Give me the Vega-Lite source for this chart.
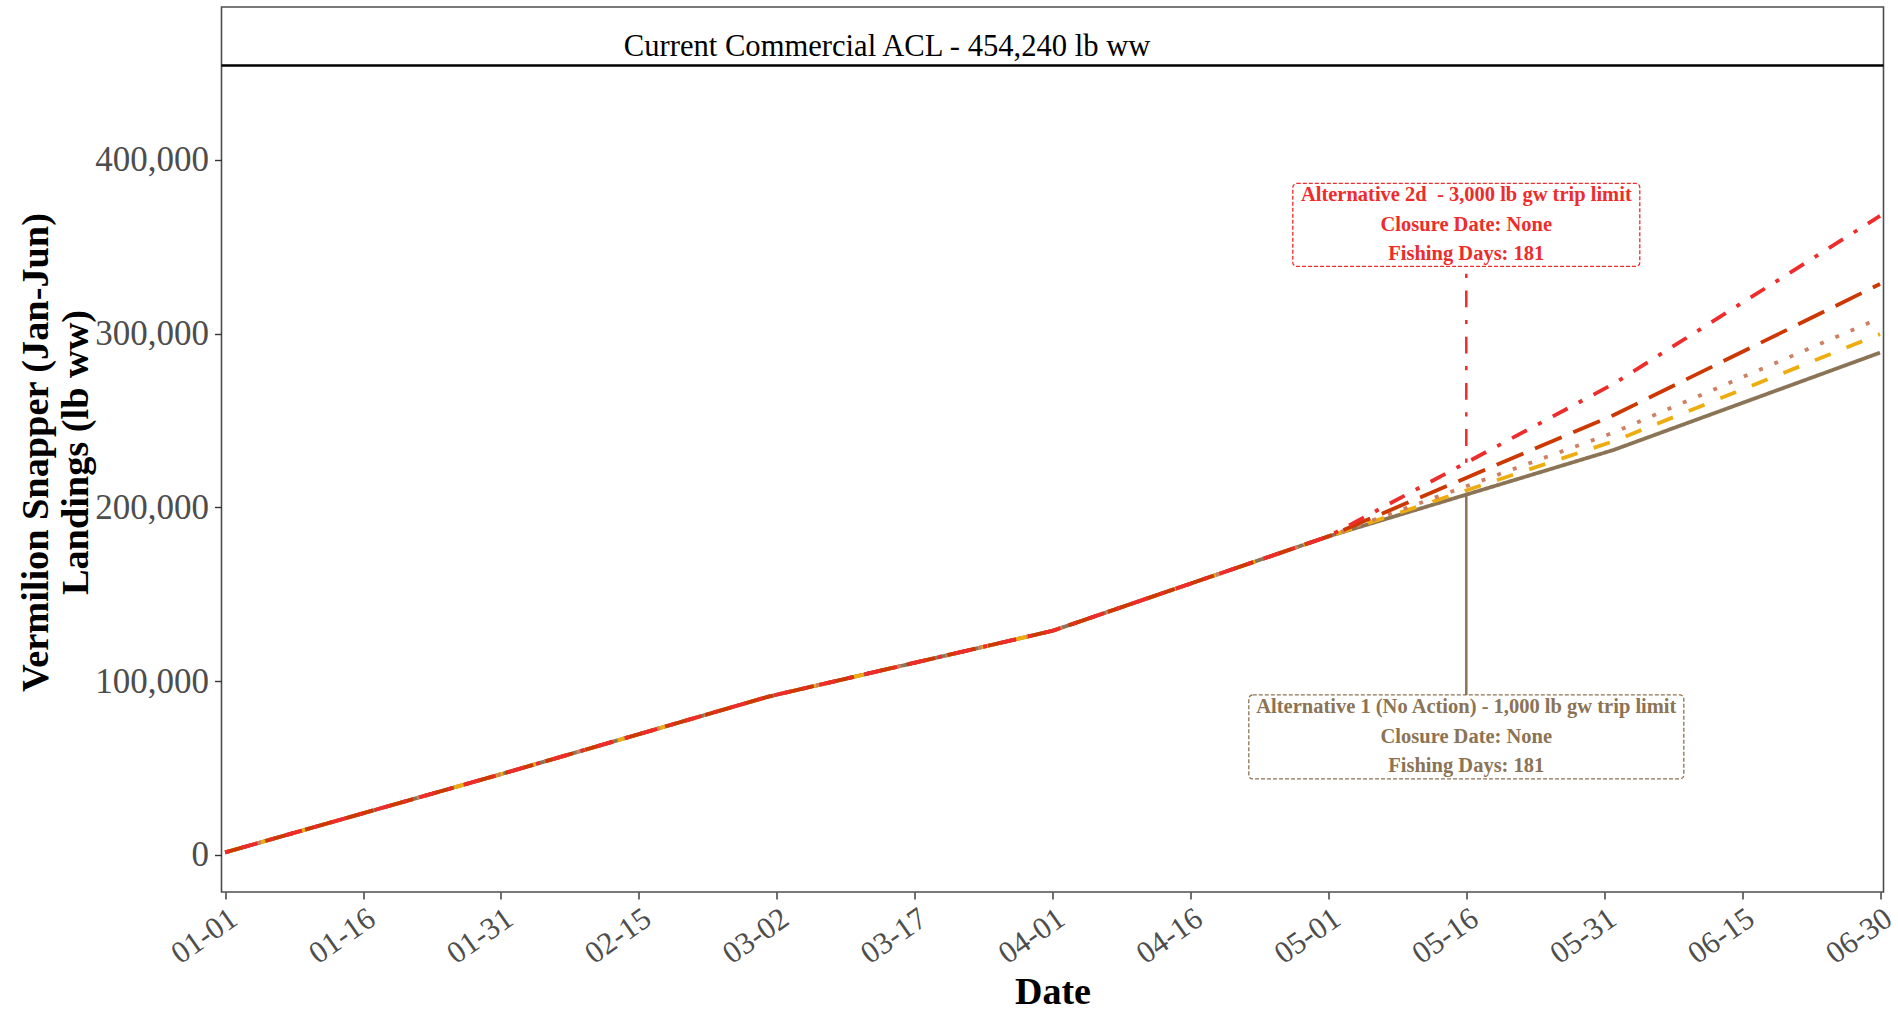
{
  "$schema": "https://vega.github.io/schema/vega-lite/v6.json",
  "width": 1662,
  "height": 885,
  "autosize": {"type": "none"},
  "padding": {"left": 221.5, "top": 7, "right": 14.5, "bottom": 118},
  "background": "white",
  "config": {
    "font": "Liberation Serif",
    "view": {"stroke": "#4D4D4D", "strokeWidth": 1.6}
  },
  "datasets": {
    "landings": [
      {"alt": "Alternative 1", "date": "2023-01-01", "value": 1500},
      {"alt": "Alternative 1", "date": "2023-01-31", "value": 46500},
      {"alt": "Alternative 1", "date": "2023-03-01", "value": 91000},
      {"alt": "Alternative 1", "date": "2023-04-01", "value": 129000},
      {"alt": "Alternative 1", "date": "2023-05-01", "value": 183300},
      {"alt": "Alternative 1", "date": "2023-06-01", "value": 233000},
      {"alt": "Alternative 1", "date": "2023-06-30", "value": 289000},
      {"alt": "Alternative 2a", "date": "2023-01-01", "value": 1500},
      {"alt": "Alternative 2a", "date": "2023-01-31", "value": 46500},
      {"alt": "Alternative 2a", "date": "2023-03-01", "value": 91000},
      {"alt": "Alternative 2a", "date": "2023-04-01", "value": 129000},
      {"alt": "Alternative 2a", "date": "2023-05-01", "value": 183300},
      {"alt": "Alternative 2a", "date": "2023-06-01", "value": 238000},
      {"alt": "Alternative 2a", "date": "2023-06-30", "value": 299700},
      {"alt": "Alternative 2b", "date": "2023-01-01", "value": 1500},
      {"alt": "Alternative 2b", "date": "2023-01-31", "value": 46500},
      {"alt": "Alternative 2b", "date": "2023-03-01", "value": 91000},
      {"alt": "Alternative 2b", "date": "2023-04-01", "value": 129000},
      {"alt": "Alternative 2b", "date": "2023-05-01", "value": 183300},
      {"alt": "Alternative 2b", "date": "2023-06-01", "value": 243000},
      {"alt": "Alternative 2b", "date": "2023-06-30", "value": 308900},
      {"alt": "Alternative 2c", "date": "2023-01-01", "value": 1500},
      {"alt": "Alternative 2c", "date": "2023-01-31", "value": 46500},
      {"alt": "Alternative 2c", "date": "2023-03-01", "value": 91000},
      {"alt": "Alternative 2c", "date": "2023-04-01", "value": 129000},
      {"alt": "Alternative 2c", "date": "2023-05-01", "value": 183300},
      {"alt": "Alternative 2c", "date": "2023-06-01", "value": 253000},
      {"alt": "Alternative 2c", "date": "2023-06-30", "value": 328500},
      {"alt": "Alternative 2d", "date": "2023-01-01", "value": 1500},
      {"alt": "Alternative 2d", "date": "2023-01-31", "value": 46500},
      {"alt": "Alternative 2d", "date": "2023-03-01", "value": 91000},
      {"alt": "Alternative 2d", "date": "2023-04-01", "value": 129000},
      {"alt": "Alternative 2d", "date": "2023-05-01", "value": 183300},
      {"alt": "Alternative 2d", "date": "2023-06-01", "value": 271000},
      {"alt": "Alternative 2d", "date": "2023-06-30", "value": 367700}
    ],
    "acl": [
      {"limit": 454240, "date": "2023-03-14", "label": "Current Commercial ACL - 454,240 lb ww"}
    ],
    "notes": [
      {"alt": "Alternative 1", "date": "2023-05-16", "line_value": 207300, "label_value": 67900,
       "label": ["Alternative 1 (No Action) - 1,000 lb gw trip limit", "Closure Date: None", "Fishing Days: 181"]},
      {"alt": "Alternative 2d", "date": "2023-05-16", "line_value": 225700, "label_value": 362500,
       "label": ["Alternative 2d \u00a0- 3,000 lb gw trip limit", "Closure Date: None", "Fishing Days: 181"]}
    ]
  },
  "layer": [
    {
      "data": {"name": "landings"},
      "mark": {"type": "line", "strokeWidth": 3.8, "strokeCap": "butt"},
      "encoding": {
        "x": {
          "field": "date", "type": "temporal",
          "scale": {"type": "utc", "domain": [
            {"year": 2022, "month": 12, "date": 31, "hours": 14, "minutes": 24, "utc": true},
            {"year": 2023, "month": 6, "date": 30, "hours": 9, "minutes": 7, "utc": true}
          ]},
          "axis": {
            "values": [
              {"year": 2023, "month": 1, "date": 1, "utc": true},
              {"year": 2023, "month": 1, "date": 16, "utc": true},
              {"year": 2023, "month": 1, "date": 31, "utc": true},
              {"year": 2023, "month": 2, "date": 15, "utc": true},
              {"year": 2023, "month": 3, "date": 2, "utc": true},
              {"year": 2023, "month": 3, "date": 17, "utc": true},
              {"year": 2023, "month": 4, "date": 1, "utc": true},
              {"year": 2023, "month": 4, "date": 16, "utc": true},
              {"year": 2023, "month": 5, "date": 1, "utc": true},
              {"year": 2023, "month": 5, "date": 16, "utc": true},
              {"year": 2023, "month": 5, "date": 31, "utc": true},
              {"year": 2023, "month": 6, "date": 15, "utc": true},
              {"year": 2023, "month": 6, "date": 30, "utc": true}
            ],
            "labelExpr": "utcFormat(datum.value, '%m-%d')",
            "labelAngle": -35, "labelAlign": "right", "labelBaseline": "top",
            "labelFontSize": 31, "labelColor": "#4D4D4D", "labelPadding": 4,
            "labelOverlap": false, "labelBound": false, "labelFlush": false,
            "tickSize": 7, "tickColor": "#333333", "tickWidth": 1.4,
            "domain": false, "grid": false,
            "title": "Date", "titleFontSize": 38, "titleFontWeight": "bold", "titleColor": "black",
            "titleY": 111, "titleBaseline": "alphabetic"
          }
        },
        "y": {
          "field": "value", "type": "quantitative",
          "scale": {"domain": [-21300, 487900], "nice": false, "zero": false},
          "axis": {
            "values": [0, 100000, 200000, 300000, 400000],
            "format": ",d",
            "labelFontSize": 35, "labelColor": "#4D4D4D", "labelPadding": 6,
            "tickSize": 7, "tickColor": "#333333", "tickWidth": 1.4,
            "domain": false, "grid": false,
            "title": ["Vermilion Snapper (Jan-Jun)", "Landings (lb ww)"],
            "titleFontSize": 38.3, "titleFontWeight": "bold", "titleColor": "black",
            "titleLineHeight": 40, "titleAngle": -90, "titleAlign": "center",
            "titleBaseline": "middle", "titleX": -185.2, "titleY": 445
          }
        },
        "color": {
          "field": "alt", "type": "nominal", "legend": null,
          "scale": {
            "domain": ["Alternative 1", "Alternative 2a", "Alternative 2b", "Alternative 2c", "Alternative 2d"],
            "range": ["#8B7355", "#EEAD0E", "#CD8162", "#CD3700", "#EE2C2C"]
          }
        },
        "strokeDash": {
          "field": "alt", "type": "nominal", "legend": null,
          "scale": {
            "domain": ["Alternative 1", "Alternative 2a", "Alternative 2b", "Alternative 2c", "Alternative 2d"],
            "range": [[1, 0], [17, 17], [4, 12.6], [29, 12.6], [4.2, 12.6, 16.8, 12.6]]
          }
        }
      }
    },
    {
      "data": {"name": "acl"},
      "mark": {"type": "rule", "color": "black", "strokeWidth": 2.6},
      "encoding": {
        "y": {"field": "limit", "type": "quantitative"}
      }
    },
    {
      "data": {"name": "acl"},
      "mark": {"type": "text", "fontSize": 30.6, "baseline": "alphabetic", "align": "center", "dy": -10, "color": "black"},
      "encoding": {
        "x": {"field": "date", "type": "temporal", "axis": {"labelExpr": "utcFormat(datum.value, '%m-%d')"}},
        "y": {"field": "limit", "type": "quantitative"},
        "text": {"field": "label", "type": "nominal"}
      }
    },
    {
      "data": {"name": "notes"},
      "mark": {"type": "rule", "strokeWidth": 2.5},
      "encoding": {
        "x": {"field": "date", "type": "temporal", "axis": {"labelExpr": "utcFormat(datum.value, '%m-%d')"}},
        "y": {"field": "line_value", "type": "quantitative"},
        "y2": {"field": "label_value"},
        "color": {"field": "alt", "type": "nominal", "legend": null},
        "strokeDash": {"field": "alt", "type": "nominal", "legend": null}
      }
    },
    {
      "data": {"name": "notes"},
      "transform": [{"filter": "datum.alt === 'Alternative 2d'"}],
      "mark": {"type": "rect", "width": 347, "height": 83, "fill": "white", "stroke": "#EE2C2C", "strokeWidth": 1.3, "strokeDash": [4, 2], "cornerRadius": 4},
      "encoding": {
        "x": {"field": "date", "type": "temporal", "axis": {"labelExpr": "utcFormat(datum.value, '%m-%d')"}},
        "y": {"field": "label_value", "type": "quantitative"}
      }
    },
    {
      "data": {"name": "notes"},
      "transform": [{"filter": "datum.alt === 'Alternative 1'"}],
      "mark": {"type": "rect", "width": 435, "height": 84, "fill": "white", "stroke": "#8B7355", "strokeWidth": 1.3, "strokeDash": [4, 2], "cornerRadius": 4},
      "encoding": {
        "x": {"field": "date", "type": "temporal", "axis": {"labelExpr": "utcFormat(datum.value, '%m-%d')"}},
        "y": {"field": "label_value", "type": "quantitative"}
      }
    },
    {
      "data": {"name": "notes"},
      "mark": {"type": "text", "fontWeight": "bold", "fontSize": 20.5, "lineHeight": 29.5, "align": "center", "baseline": "middle", "dy": -29.5},
      "encoding": {
        "x": {"field": "date", "type": "temporal", "axis": {"labelExpr": "utcFormat(datum.value, '%m-%d')"}},
        "y": {"field": "label_value", "type": "quantitative"},
        "text": {"field": "label", "type": "nominal"},
        "color": {"field": "alt", "type": "nominal", "legend": null}
      }
    }
  ]
}
